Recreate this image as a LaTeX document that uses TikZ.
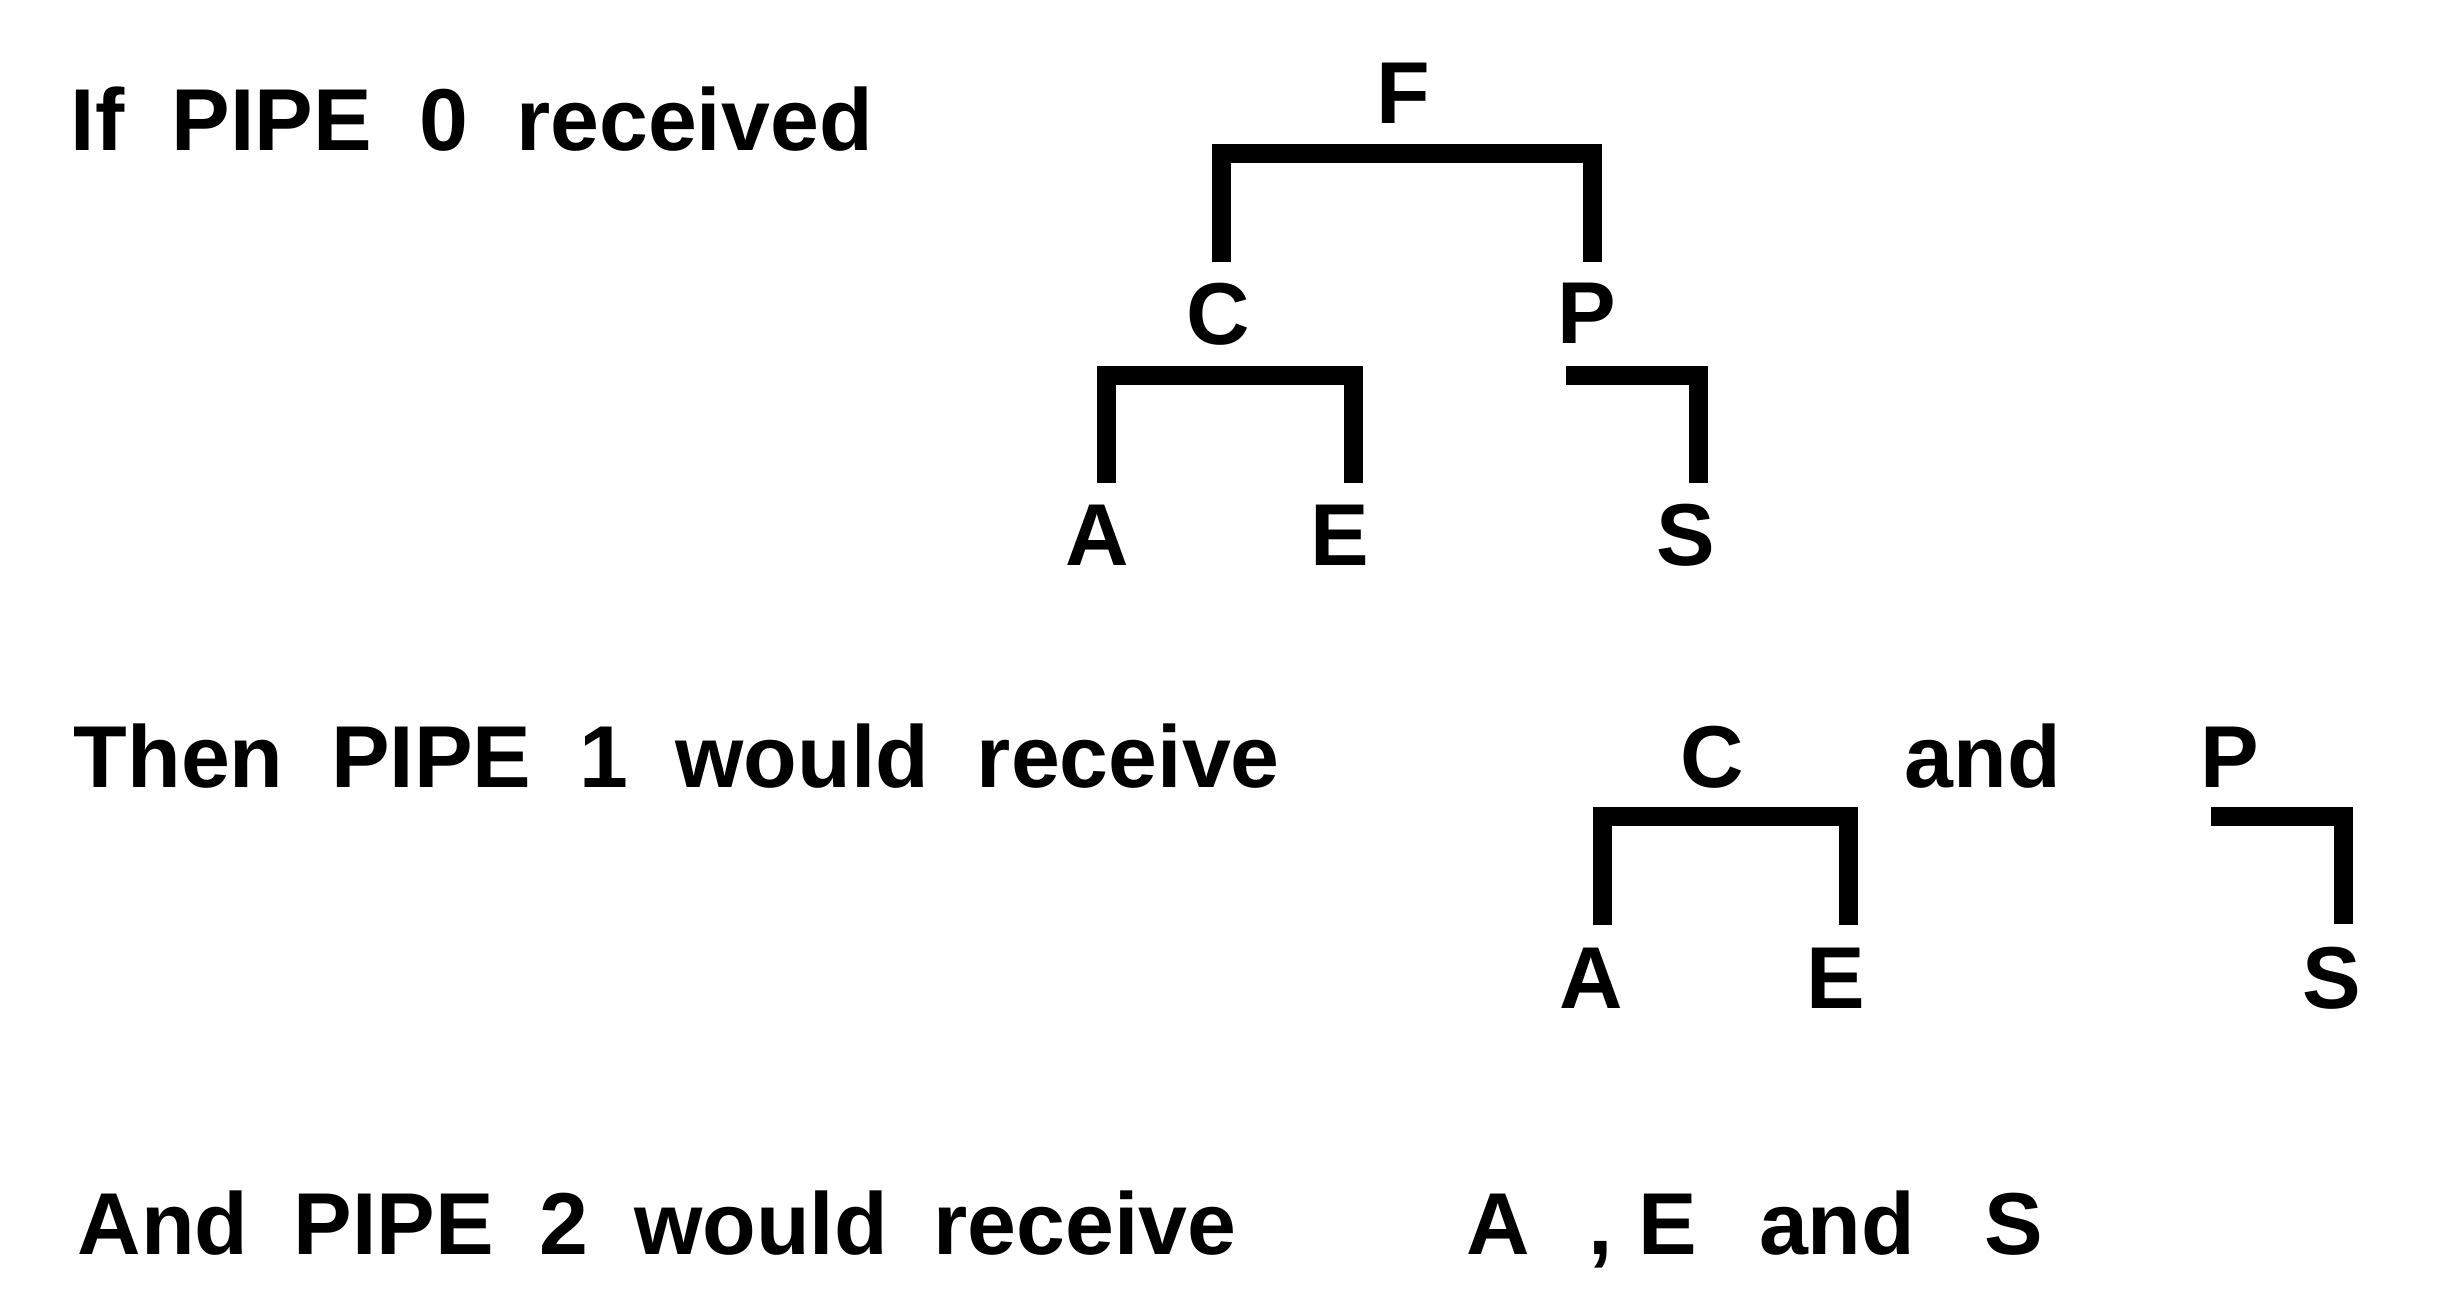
\documentclass[tikz,border=0pt]{standalone}
\usepackage{fontspec}
\setmainfont{Liberation Sans}[WordSpace=1.95]
\begin{document}
\begin{tikzpicture}[x=0.1mm,y=-0.1mm,
  lbl/.style={inner sep=0pt, anchor=base, font=\fontsize{25}{30}\selectfont\bfseries},
  txt/.style={inner sep=0pt, anchor=base west, font=\fontsize{25}{30}\selectfont\bfseries},
  brk/.style={line width=1.9mm, line cap=butt, line join=miter}]
\useasboundingbox (0,0) rectangle (2450,1300);

% Row 1
\node[txt] (t1) at (70,150) {If PIPE 0 received};
\node[lbl] (F1) at (1403,123) {F};
\node[lbl] (C1) at (1218,344) {C};
\node[lbl] (P1) at (1587,343) {P};
\node[lbl] (A1) at (1097,565) {A};
\node[lbl] (E1) at (1340,565) {E};
\node[lbl] (S1) at (1686,565) {S};

\coordinate (F1l) at (1221,262);
\coordinate (F1r) at (1592,262);
\coordinate (F1b) at (1400,153.5);
\draw[brk] (F1l) |- (F1r |- F1b) -- (F1r);

\coordinate (C1l) at (1106,483);
\coordinate (C1r) at (1353,483);
\coordinate (C1b) at (1220,375.5);
\draw[brk] (C1l) |- (C1r |- C1b) -- (C1r);

\coordinate (P1s) at (1566,375.5);
\coordinate (P1r) at (1698,483);
\draw[brk] (P1s) -| (P1r);

% Row 2
\node[txt] (t2) at (73,787) {Then PIPE 1 would receive};
\node[lbl] (C2) at (1712,787) {C};
\node[txt] (and2) at (1904,787) {and};
\node[lbl] (P2) at (2230,787) {P};
\node[lbl] (A2) at (1591,1008) {A};
\node[lbl] (E2) at (1836,1008) {E};
\node[lbl] (S2) at (2332,1008) {S};

\coordinate (C2l) at (1602,925);
\coordinate (C2r) at (1848,925);
\coordinate (C2b) at (1720,816);
\draw[brk] (C2l) |- (C2r |- C2b) -- (C2r);

\coordinate (P2s) at (2211,816);
\coordinate (P2r) at (2343,924);
\draw[brk] (P2s) -| (P2r);

% Row 3
\node[txt] (t3) at (77,1254) {\spaceskip=4.55mm\relax And PIPE 2 would receive};
\node[txt] (t3b) at (1466,1254) {A\hspace{5.8mm},\hspace{2.6mm}E\hspace{6.2mm}and\hspace{6.9mm}S};
\end{tikzpicture}
\end{document}
